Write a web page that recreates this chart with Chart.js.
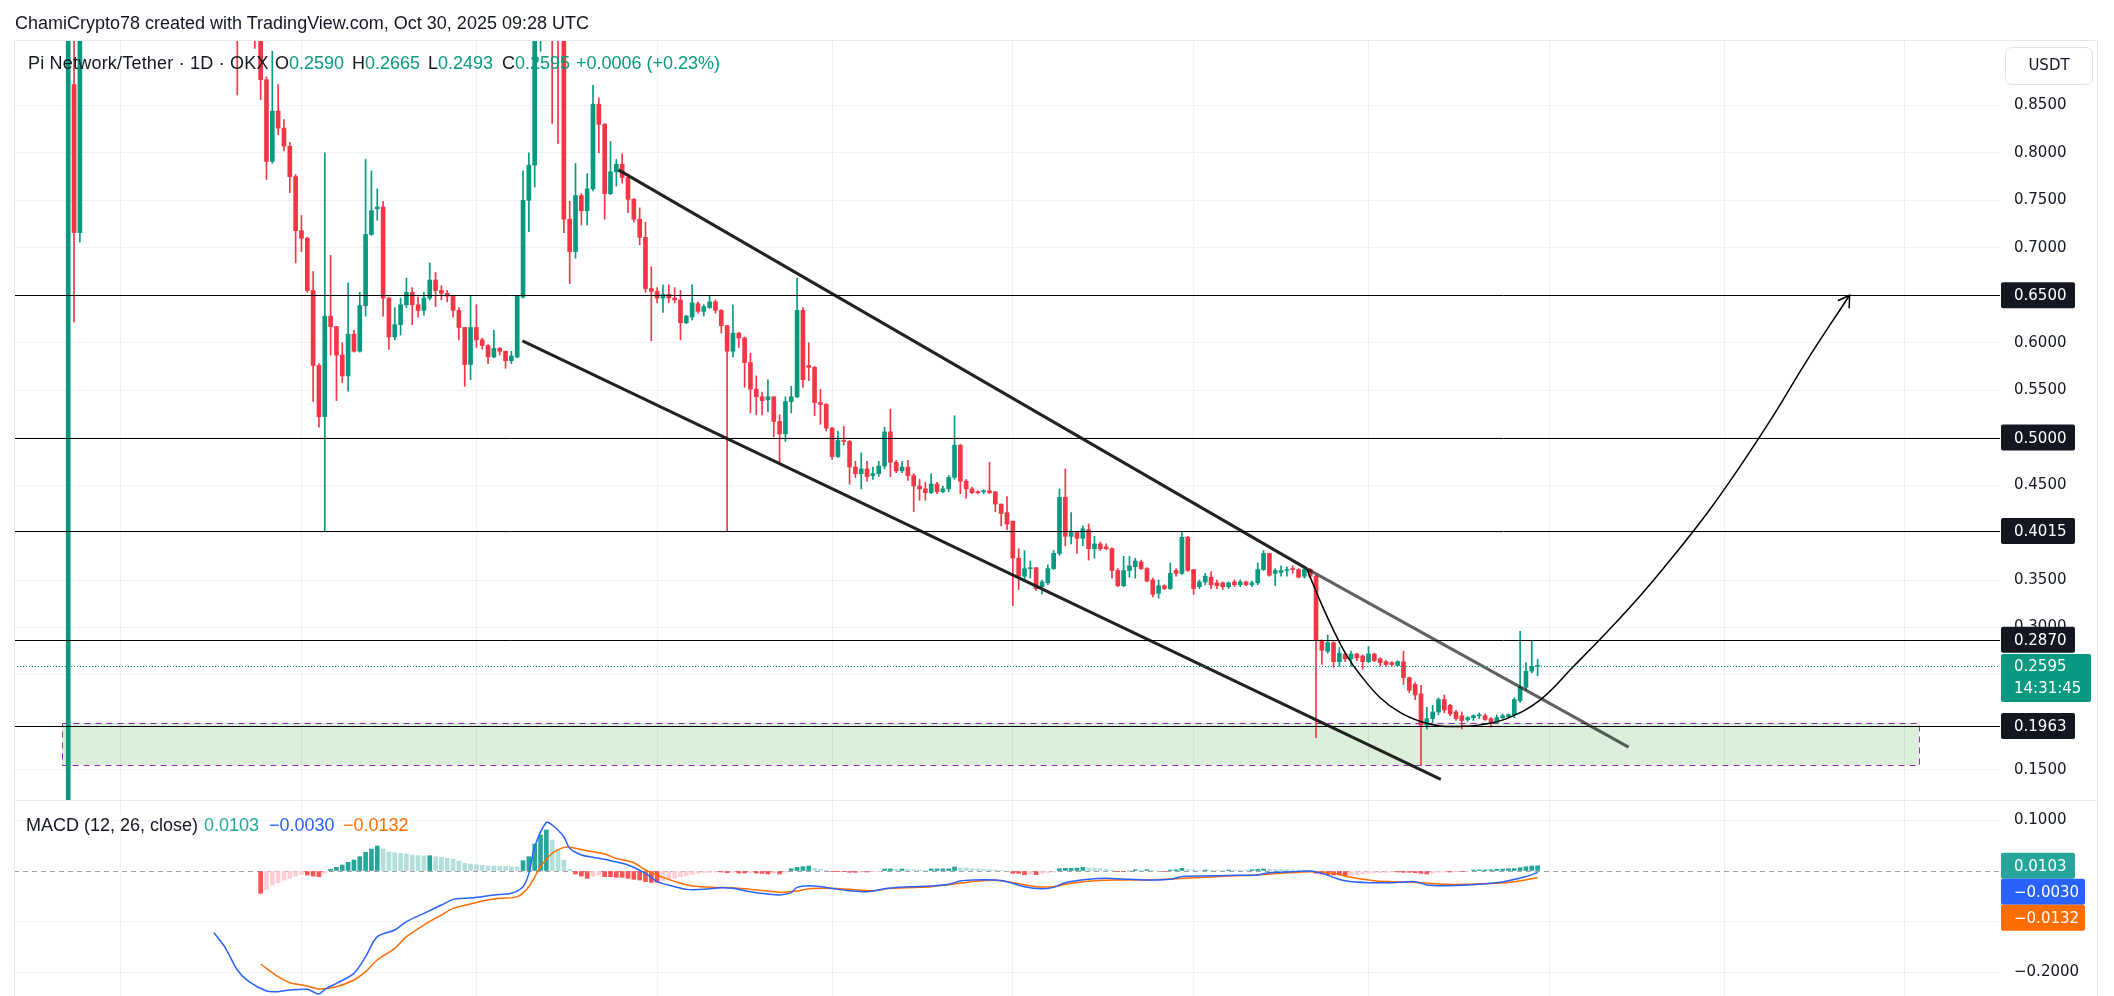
<!DOCTYPE html>
<html>
<head>
<meta charset="utf-8">
<title>Pi Network/Tether 1D OKX</title>
<script src="https://cdn.jsdelivr.net/npm/chart.js@4.4.1/dist/chart.umd.min.js"></script>
<style>
  html, body { margin: 0; padding: 0; background: #fff; }
  body { width: 2114px; height: 996px; overflow: hidden; position: relative;
         font-family: "Liberation Sans", Arial, sans-serif; color: #131722; }
  .pane { position: absolute; left: 0; width: 2114px; }
  #pricePane { top: 0; height: 801px; }
  #macdPane { top: 801px; height: 195px; }
  #frame { position: absolute; left: 14px; top: 40px; width: 2084px; height: 960px;
           border: 1px solid #e6e8ee; box-sizing: border-box; pointer-events: none; }
  #sep { position: absolute; left: 14px; top: 800px; width: 2084px; height: 1px; background: #e6e8ee; }
  .txt { position: absolute; font-size: 18px; line-height: 22px; white-space: nowrap; z-index: 5; }
  .up { color: #089981; }
</style>
</head>
<body>
<div class="pane" id="pricePane"><canvas id="priceChart"></canvas></div>
<div class="pane" id="macdPane"><canvas id="macdChart"></canvas></div>
<div id="frame"></div>
<div id="sep"></div>

<div class="txt" style="left:15px; top:12px;">ChamiCrypto78 created with TradingView.com, Oct 30, 2025 09:28 UTC</div>
<div class="txt" style="left:28px; top:52px; letter-spacing:0.2px;">Pi Network/Tether · 1D · OKX</div>
<div class="txt" style="left:275px; top:52px;">O<span class="up">0.2590</span></div>
<div class="txt" style="left:352px; top:52px;">H<span class="up">0.2665</span></div>
<div class="txt" style="left:428px; top:52px;">L<span class="up">0.2493</span></div>
<div class="txt" style="left:502px; top:52px;">C<span class="up">0.2595</span></div>
<div class="txt up" style="left:576px; top:52px;">+0.0006 (+0.23%)</div>
<div class="txt" style="left:26px; top:814px;">MACD (12, 26, close)</div>
<div class="txt" style="left:204px; top:814px; color:#26a69a;">0.0103</div>
<div class="txt" style="left:269px; top:814px; color:#2962ff;">−0.0030</div>
<div class="txt" style="left:343px; top:814px; color:#ff6d00;">−0.0132</div>

<script>
// ---- daily candles, index 0 = 20 Feb 2025 (null = candle entirely above the visible range)
const openPrices = [
  0.06, 0.872, 0.716, null, null, null, null, null, null, null,
  null, null, null, null, null, null, null, null, null, null,
  null, null, null, null, null, null, null, null, null, 1.02,
  null, null, 0.99, 0.94, 0.877, 0.791, 0.844, 0.826, 0.807, 0.775,
  0.718, 0.710, 0.655, 0.576, 0.522, 0.628, 0.617, 0.587, 0.565, 0.609,
  0.591, 0.639, 0.714, 0.741, 0.743, 0.647, 0.606, 0.619, 0.640, 0.653,
  0.640, 0.634, 0.647, 0.666, 0.655, 0.652, 0.649, 0.634, 0.616, 0.577,
  0.616, 0.603, 0.597, 0.585, 0.594, 0.591, 0.581, 0.585, 0.648, 0.750,
  0.787, 1.05, null, 1.12, 0.98, 0.94, 0.730, 0.696, 0.755, 0.739,
  0.762, 0.851, 0.830, 0.757, 0.780, 0.788, 0.774, 0.751, 0.730, 0.711,
  0.657, 0.654, 0.647, 0.651, 0.647, 0.645, 0.621, 0.627, 0.641, 0.633,
  0.637, 0.643, 0.634, 0.618, 0.591, 0.610, 0.605, 0.579, 0.551, 0.543,
  0.540, 0.543, 0.517, 0.504, 0.538, 0.543, 0.634, 0.576, 0.574, 0.537,
  0.535, 0.510, 0.480, 0.497, 0.496, 0.469, 0.462, 0.467, 0.460, 0.462,
  0.470, 0.506, 0.474, 0.465, 0.469, 0.460, 0.449, 0.446, 0.442, 0.451,
  0.443, 0.446, 0.458, 0.492, 0.454, 0.446, 0.443, 0.443, 0.444, 0.443,
  0.430, 0.421, 0.412, 0.373, 0.354, 0.362, 0.363, 0.343, 0.347, 0.362,
  0.378, 0.437, 0.396, 0.400, 0.394, 0.403, 0.383, 0.388, 0.385, 0.383,
  0.360, 0.344, 0.360, 0.364, 0.369, 0.362, 0.350, 0.336, 0.344, 0.341,
  0.360, 0.357, 0.395, 0.361, 0.343, 0.348, 0.353, 0.347, 0.347, 0.343,
  0.348, 0.345, 0.348, 0.345, 0.347, 0.361, 0.378, 0.357, 0.358, 0.360,
  0.362, 0.361, 0.354, 0.361, 0.354, 0.286, 0.275, 0.284, 0.264, 0.272,
  0.267, 0.272, 0.270, 0.264, 0.272, 0.267, 0.264, 0.263, 0.260, 0.264,
  0.247, 0.240, 0.230, 0.197, 0.204, 0.211, 0.224, 0.218, 0.211, 0.207,
  0.203, 0.205, 0.207, 0.207, 0.204, 0.200, 0.205, 0.206, 0.208, 0.223,
  0.237, 0.254, 0.2590
];
const highPrices = [
  1.95, 1.45, 1.90, null, null, null, null, null, null, null,
  null, null, null, null, null, null, null, null, null, null,
  null, null, null, null, null, null, null, null, null, 1.06,
  null, null, 1.02, 0.95, 0.88, 0.907, 0.872, 0.835, 0.811, 0.777,
  0.734, 0.711, 0.675, 0.578, 0.800, 0.692, 0.617, 0.600, 0.663, 0.613,
  0.653, 0.793, 0.781, 0.762, 0.749, 0.648, 0.637, 0.647, 0.668, 0.658,
  0.648, 0.653, 0.684, 0.674, 0.660, 0.655, 0.649, 0.637, 0.616, 0.650,
  0.640, 0.605, 0.598, 0.613, 0.595, 0.591, 0.591, 0.650, 0.781, 0.800,
  1.20, 1.45, null, 1.20, 1.02, 0.95, 0.749, 0.789, 0.757, 0.778,
  0.871, 0.858, 0.831, 0.812, 0.793, 0.799, 0.778, 0.752, 0.742, 0.727,
  0.680, 0.658, 0.661, 0.661, 0.658, 0.655, 0.629, 0.661, 0.643, 0.640,
  0.649, 0.645, 0.635, 0.618, 0.640, 0.611, 0.606, 0.589, 0.565, 0.548,
  0.561, 0.543, 0.524, 0.543, 0.554, 0.668, 0.637, 0.600, 0.575, 0.551,
  0.536, 0.511, 0.507, 0.512, 0.497, 0.475, 0.484, 0.475, 0.469, 0.475,
  0.511, 0.530, 0.476, 0.475, 0.476, 0.462, 0.456, 0.453, 0.462, 0.453,
  0.449, 0.460, 0.523, 0.493, 0.456, 0.448, 0.444, 0.445, 0.474, 0.443,
  0.430, 0.438, 0.412, 0.383, 0.381, 0.370, 0.363, 0.350, 0.366, 0.381,
  0.446, 0.467, 0.421, 0.401, 0.407, 0.409, 0.396, 0.390, 0.388, 0.384,
  0.362, 0.375, 0.375, 0.373, 0.371, 0.363, 0.352, 0.350, 0.345, 0.368,
  0.362, 0.400, 0.396, 0.361, 0.350, 0.357, 0.359, 0.350, 0.348, 0.348,
  0.350, 0.350, 0.349, 0.349, 0.368, 0.381, 0.378, 0.362, 0.365, 0.364,
  0.365, 0.362, 0.364, 0.362, 0.355, 0.287, 0.292, 0.285, 0.279, 0.273,
  0.275, 0.273, 0.271, 0.280, 0.273, 0.268, 0.265, 0.264, 0.265, 0.275,
  0.248, 0.242, 0.239, 0.216, 0.218, 0.226, 0.229, 0.219, 0.213, 0.211,
  0.206, 0.208, 0.210, 0.209, 0.205, 0.208, 0.209, 0.209, 0.226, 0.296,
  0.263, 0.286, 0.2665
];
const lowPrices = [
  0.06, 0.622, 0.706, null, null, null, null, null, null, null,
  null, null, null, null, null, null, null, null, null, null,
  null, null, null, null, null, null, null, null, null, 0.861,
  null, null, 0.910, 0.856, 0.772, 0.789, 0.819, 0.802, 0.758, 0.684,
  0.696, 0.653, 0.538, 0.511, 0.4015, 0.587, 0.539, 0.558, 0.549, 0.590,
  0.590, 0.628, 0.713, 0.729, 0.628, 0.593, 0.603, 0.608, 0.637, 0.619,
  0.627, 0.629, 0.645, 0.638, 0.645, 0.643, 0.627, 0.603, 0.554, 0.561,
  0.595, 0.593, 0.578, 0.584, 0.587, 0.573, 0.578, 0.584, 0.647, 0.717,
  0.764, 0.907, null, 0.831, 0.810, 0.716, 0.662, 0.689, 0.724, 0.724,
  0.760, 0.800, 0.730, 0.756, 0.765, 0.768, 0.737, 0.727, 0.703, 0.653,
  0.602, 0.642, 0.632, 0.642, 0.642, 0.603, 0.620, 0.624, 0.631, 0.628,
  0.636, 0.631, 0.610, 0.4015, 0.585, 0.595, 0.553, 0.526, 0.524, 0.524,
  0.527, 0.501, 0.472, 0.496, 0.526, 0.542, 0.553, 0.560, 0.523, 0.514,
  0.507, 0.477, 0.479, 0.492, 0.451, 0.458, 0.446, 0.454, 0.456, 0.459,
  0.467, 0.459, 0.463, 0.463, 0.455, 0.422, 0.434, 0.434, 0.441, 0.441,
  0.442, 0.443, 0.456, 0.441, 0.436, 0.441, 0.441, 0.441, 0.441, 0.422,
  0.407, 0.403, 0.323, 0.340, 0.350, 0.352, 0.339, 0.335, 0.345, 0.361,
  0.376, 0.386, 0.388, 0.378, 0.386, 0.371, 0.373, 0.381, 0.382, 0.352,
  0.343, 0.343, 0.353, 0.352, 0.361, 0.348, 0.332, 0.331, 0.340, 0.340,
  0.354, 0.356, 0.359, 0.335, 0.341, 0.345, 0.341, 0.341, 0.340, 0.341,
  0.343, 0.343, 0.344, 0.343, 0.345, 0.360, 0.354, 0.344, 0.354, 0.354,
  0.357, 0.352, 0.352, 0.352, 0.184, 0.261, 0.273, 0.258, 0.259, 0.264,
  0.259, 0.265, 0.256, 0.263, 0.264, 0.259, 0.259, 0.259, 0.259, 0.240,
  0.231, 0.224, 0.1545, 0.193, 0.200, 0.208, 0.210, 0.207, 0.202, 0.193,
  0.201, 0.202, 0.204, 0.202, 0.195, 0.199, 0.204, 0.205, 0.205, 0.221,
  0.234, 0.252, 0.2493
];
const closePrices = [
  1.55, 0.716, 1.50, null, null, null, null, null, null, null,
  null, null, null, null, null, null, null, null, null, null,
  null, null, null, null, null, null, null, null, null, 0.96,
  null, null, 0.94, 0.877, 0.791, 0.844, 0.826, 0.807, 0.775, 0.718,
  0.710, 0.655, 0.576, 0.522, 0.628, 0.617, 0.587, 0.565, 0.609, 0.591,
  0.639, 0.714, 0.739, 0.743, 0.647, 0.606, 0.619, 0.640, 0.653, 0.640,
  0.634, 0.647, 0.666, 0.655, 0.652, 0.649, 0.634, 0.616, 0.577, 0.616,
  0.603, 0.597, 0.585, 0.594, 0.591, 0.581, 0.586, 0.649, 0.750, 0.787,
  1.05, 1.35, null, 0.98, 0.94, 0.730, 0.696, 0.755, 0.739, 0.762,
  0.851, 0.830, 0.757, 0.780, 0.788, 0.774, 0.751, 0.730, 0.711, 0.657,
  0.654, 0.647, 0.651, 0.647, 0.645, 0.621, 0.628, 0.642, 0.633, 0.638,
  0.643, 0.634, 0.618, 0.591, 0.610, 0.605, 0.579, 0.551, 0.543, 0.539,
  0.543, 0.517, 0.504, 0.538, 0.543, 0.634, 0.561, 0.574, 0.537, 0.535,
  0.510, 0.480, 0.497, 0.496, 0.469, 0.462, 0.467, 0.459, 0.462, 0.470,
  0.506, 0.474, 0.465, 0.469, 0.460, 0.449, 0.446, 0.442, 0.451, 0.443,
  0.446, 0.458, 0.492, 0.454, 0.446, 0.442, 0.442, 0.444, 0.442, 0.430,
  0.420, 0.409, 0.373, 0.354, 0.362, 0.363, 0.341, 0.348, 0.362, 0.378,
  0.437, 0.396, 0.400, 0.394, 0.404, 0.383, 0.388, 0.383, 0.383, 0.360,
  0.344, 0.360, 0.365, 0.370, 0.362, 0.349, 0.335, 0.344, 0.341, 0.357,
  0.357, 0.395, 0.360, 0.341, 0.348, 0.354, 0.345, 0.344, 0.343, 0.347,
  0.345, 0.348, 0.345, 0.347, 0.361, 0.378, 0.355, 0.360, 0.360, 0.361,
  0.361, 0.353, 0.361, 0.354, 0.286, 0.276, 0.284, 0.264, 0.273, 0.267,
  0.272, 0.268, 0.264, 0.272, 0.265, 0.263, 0.261, 0.261, 0.264, 0.247,
  0.234, 0.229, 0.197, 0.204, 0.211, 0.224, 0.213, 0.209, 0.204, 0.202,
  0.205, 0.207, 0.208, 0.203, 0.200, 0.205, 0.207, 0.208, 0.224, 0.237,
  0.254, 0.259, 0.2595
];

// ---- MACD (12, 26, close) pane
const macdHist = [
  null, null, null, null, null, null, null, null, null, null,
  null, null, null, null, null, null, null, null, null, null,
  null, null, null, null, null, null, null, null, null, null,
  null, null, null, -0.044, -0.036, -0.0276, -0.023, -0.0178, -0.0145, -0.0099,
  -0.0066, -0.0079, -0.0099, -0.0112, -0.0033, 0.0033, 0.0072, 0.0118, 0.0171, 0.0217,
  0.0283, 0.0368, 0.0434, 0.0493, 0.0434, 0.0375, 0.0362, 0.0348, 0.0335, 0.0316,
  0.0302, 0.0296, 0.0302, 0.0283, 0.027, 0.025, 0.023, 0.0197, 0.0151, 0.0138,
  0.0125, 0.0112, 0.0099, 0.0097, 0.0095, 0.0088, 0.0085, 0.0083, 0.0204, 0.0283,
  0.0532, 0.071, 0.081, 0.0611, 0.0414, 0.0217, 0.0033, -0.0059, -0.0099, -0.0145,
  -0.0099, -0.0079, -0.0112, -0.0112, -0.0125, -0.0125, -0.0145, -0.0164, -0.0178, -0.021,
  -0.0224, -0.0224, -0.0191, -0.0164, -0.0145, -0.0112, -0.0092, -0.0066, -0.0046, -0.0033,
  -0.0026, -0.002, -0.002, -0.0033, -0.0026, -0.004, -0.004, -0.0033, -0.004, -0.0046,
  -0.0059, -0.0046, -0.0059, -0.002, 0.0046, 0.0072, 0.0085, 0.0099, 0.0053, 0.0033,
  0.0013, -0.0013, -0.0013, -0.0013, -0.0026, -0.0026, -0.002, -0.002, -0.0013, -0.0007,
  0.004, 0.0041, 0.0033, 0.004, 0.0033, 0.0026, 0.002, 0.0013, 0.004, 0.0041,
  0.0042, 0.0043, 0.0079, 0.0059, 0.0059, 0.0046, 0.004, 0.0033, 0.0026, 0.002,
  0.0013, 0.0, -0.0046, -0.0046, -0.0072, -0.0059, -0.0072, -0.0046, -0.0033, -0.002,
  0.0046, 0.0053, 0.0054, 0.0059, 0.0072, 0.0059, 0.0059, 0.0046, 0.004, 0.002,
  -0.0007, -0.0007, 0.0, 0.0026, 0.002, 0.0026, 0.0007, 0.0, -0.0013, 0.002,
  0.0026, 0.0053, 0.0033, 0.0026, 0.0013, 0.002, 0.0013, 0.0013, 0.0007, 0.002,
  0.002, 0.002, 0.002, 0.0026, 0.0033, 0.004, 0.0033, 0.0033, 0.0033, 0.0033,
  0.0026, 0.002, 0.002, 0.0013, -0.0046, -0.0059, -0.0072, -0.0079, -0.0079, -0.0099,
  -0.0086, -0.0072, -0.0059, -0.0046, -0.004, -0.0033, -0.0026, -0.002, -0.002, -0.0026,
  -0.0026, -0.0033, -0.0046, -0.0059, -0.004, -0.0026, -0.002, -0.002, -0.0013, -0.0013,
  -0.0007, 0.002, 0.0021, 0.0022, 0.0026, 0.0033, 0.004, 0.0046, 0.0047, 0.0066,
  0.0085, 0.0099, 0.0103
];
// [day index, value]
const macdLine = [
  [25,-0.1217],[27,-0.1525],[29,-0.1953],[31,-0.2183],[34,-0.2367],[36,-0.238],[38,-0.2347],
  [41,-0.2334],[43,-0.2426],[44,-0.2334],[46,-0.2215],[49,-0.2018],[51,-0.1689],[53,-0.1295],
  [56,-0.1164],[58,-0.0999],[61,-0.0835],[64,-0.0671],[66,-0.0559],[68,-0.0539],[71,-0.0506],
  [73,-0.0473],[76,-0.044],[78,-0.0309],[79,-0.0046],[80,0.048],[82,0.096],[83,0.0907],
  [85,0.0677],[86,0.0447],[88,0.0316],[90,0.027],[92,0.023],[93,0.0204],[96,0.0118],
  [99,-0.0046],[101,-0.021],[104,-0.0309],[106,-0.0362],[109,-0.0362],[112,-0.0329],
  [114,-0.0342],[117,-0.0408],[120,-0.0454],[122,-0.0473],[124,-0.0427],[125,-0.0323],
  [127,-0.029],[130,-0.0323],[132,-0.0362],[134,-0.0388],[137,-0.0408],[140,-0.0349],
  [142,-0.0323],[145,-0.0309],[148,-0.0296],[151,-0.0263],[153,-0.0197],[155,-0.0178],
  [159,-0.0178],[161,-0.021],[164,-0.0309],[167,-0.0349],[169,-0.0323],[171,-0.023],
  [175,-0.0164],[178,-0.0145],[182,-0.0164],[186,-0.0178],[189,-0.0164],[191,-0.011],
  [195,-0.0099],[199,-0.0086],[204,-0.0079],[206,-0.0033],[210,-0.0013],[213,0.0],
  [215,-0.0046],[217,-0.0125],[219,-0.0191],[223,-0.023],[227,-0.023],[231,-0.021],
  [233,-0.0276],[236,-0.029],[240,-0.0276],[245,-0.023],[247,-0.0191],[250,-0.011],[252,-0.003]
];
const signalLine = [
  [33,-0.1834],[36,-0.2084],[38,-0.2202],[41,-0.2268],[43,-0.2327],[46,-0.2281],[49,-0.2149],
  [51,-0.1985],[53,-0.1755],[56,-0.1525],[58,-0.1295],[61,-0.1065],[64,-0.0868],[66,-0.0736],
  [69,-0.065],[71,-0.0592],[74,-0.0539],[77,-0.0506],[79,-0.0309],[81,0.0085],[83,0.0348],
  [85,0.0467],[86,0.0467],[89,0.04],[92,0.0335],[94,0.025],[97,0.0164],[99,0.002],
  [102,-0.0125],[105,-0.0243],[107,-0.0296],[111,-0.0323],[114,-0.0329],[117,-0.0362],
  [120,-0.0395],[122,-0.0421],[125,-0.0395],[127,-0.0349],[131,-0.0342],[134,-0.0362],
  [138,-0.0388],[141,-0.0342],[145,-0.0323],[148,-0.0309],[152,-0.0256],[155,-0.021],
  [159,-0.0184],[162,-0.023],[166,-0.0309],[169,-0.0309],[172,-0.0243],[176,-0.0191],
  [180,-0.0178],[185,-0.0178],[190,-0.0151],[195,-0.0125],[199,-0.0099],[204,-0.0079],
  [208,-0.0046],[213,-0.0013],[217,-0.0046],[220,-0.0125],[224,-0.0191],[227,-0.021],
  [232,-0.023],[236,-0.0263],[240,-0.0263],[245,-0.0243],[248,-0.021],[252,-0.0132]
];
const macdLast = { hist: 0.0103, macd: -0.0030, signal: -0.0132 };

// ---- axes
const dayMin = -9.3, dayMax = 331.3;
const monthStarts = [9, 40, 70, 101, 131, 162, 193, 223, 254, 284, 315];
const priceTicks = [0.15, 0.20, 0.25, 0.30, 0.35, 0.40, 0.45, 0.50, 0.55, 0.60, 0.65, 0.70, 0.75, 0.80, 0.85];
const macdTicks = [0.1, 0, -0.1, -0.2];

// ---- drawings
const levelPrices = [0.65, 0.5, 0.4015, 0.287, 0.1963];
const lastPrice = 0.2595;
const countdown = '14:31:45';
const zoneDays = [-1.0, 317.4];
const zonePrices = [0.1995, 0.1555];
const channelUpper = [[94.35, 0.782], [212.4, 0.362]];
const channelUpperExt = [[212.4, 0.362], [267.6, 0.174]];
const channelLower = [[77.9, 0.602], [235.4, 0.140]];
const projection = [
  [212.4,0.362],[214.7,0.328],[217.0,0.297],[219.3,0.270],[221.6,0.250],[225.0,0.226],
  [228.4,0.2105],[231.9,0.201],[235.3,0.1963],[238.7,0.1958],[242.1,0.1974],[246.7,0.204],
  [252.4,0.2235],[258.1,0.2586],[263.9,0.2952],[269.6,0.3334],[275.3,0.3753],[281.0,0.4198],
  [286.7,0.4695],[292.4,0.5229],[298.1,0.5804],[305.5,0.650]
];

const UP = '#089981', DOWN = '#f23645', GRID = '#f0f1f4', INK = '#131722';
const AXIS_FONT = '15px "DejaVu Sans"';
Chart.defaults.font.family = '"DejaVu Sans", sans-serif';

const pts = arr => arr.map(p => ({ x: p[0], y: p[1] }));

// candles as two floating-bar datasets (wick range and body range)
const wickData = [], bodyData = [], candleColors = [];
for (let i = 0; i < openPrices.length; i++) {
  if (openPrices[i] === null) continue;
  wickData.push({ x: i, y: [lowPrices[i], highPrices[i]] });
  bodyData.push({ x: i, y: [openPrices[i], closePrices[i]] });
  candleColors.push(closePrices[i] >= openPrices[i] ? UP : DOWN);
}

const histData = [], histColors = [];
for (let i = 0; i < macdHist.length; i++) {
  const v = macdHist[i];
  if (v === null) continue;
  const prev = macdHist[i - 1];
  const rising = prev !== null && prev !== undefined && v > prev;
  histData.push({ x: i, y: v });
  histColors.push(v >= 0 ? (rising ? '#26a69a' : '#b2dfdb') : (rising ? '#ffcdd2' : '#ff5252'));
}

function box(ctx, x, y, w, h, fill, r) {
  ctx.beginPath();
  ctx.roundRect(x, y, w, h, r);
  ctx.fillStyle = fill;
  ctx.fill();
}

// right axis: fixed width, and no extra room reserved for the end labels
function fitRightAxis(s) {
  s.width = 114;
  s.paddingTop = 0;
  s.paddingBottom = 0;
}

function xScale() {
  return {
    type: 'linear', min: dayMin, max: dayMax, offset: false,
    afterBuildTicks: s => { s.ticks = monthStarts.map(v => ({ value: v })); },
    afterFit: s => { s.height = 0; s.paddingLeft = 0; s.paddingRight = 0; },
    ticks: { display: false },
    grid: { color: GRID, drawTicks: false, offset: false },
    border: { display: false }
  };
}

const priceDrawings = {
  id: 'priceDrawings',
  beforeDatasetsDraw(chart) {
    const { ctx, chartArea: a, scales: { x, y } } = chart;
    ctx.save();
    ctx.beginPath(); ctx.rect(a.left, a.top, a.width, a.height); ctx.clip();
    const x1 = Math.round(x.getPixelForValue(zoneDays[0])), x2 = Math.round(x.getPixelForValue(zoneDays[1]));
    const y1 = Math.round(y.getPixelForValue(zonePrices[0])), y2 = Math.round(y.getPixelForValue(zonePrices[1]));
    ctx.fillStyle = 'rgba(76,175,80,0.2)';
    ctx.fillRect(x1, y1, x2 - x1, y2 - y1);
    ctx.strokeStyle = '#9c27b0'; ctx.lineWidth = 1; ctx.setLineDash([6, 5]);
    ctx.strokeRect(x1 + 0.5, y1 + 0.5, x2 - x1, y2 - y1);
    ctx.restore();
  },
  afterDatasetsDraw(chart) {
    const { ctx, chartArea: a, scales: { y } } = chart;
    ctx.save();
    ctx.beginPath(); ctx.rect(a.left, a.top, a.width, a.height); ctx.clip();
    ctx.strokeStyle = '#000'; ctx.lineWidth = 1;
    levelPrices.forEach(p => {
      const py = Math.round(y.getPixelForValue(p)) + 0.5;
      ctx.beginPath(); ctx.moveTo(a.left, py); ctx.lineTo(a.right, py); ctx.stroke();
    });
    ctx.strokeStyle = UP; ctx.setLineDash([1, 2]);
    const ly = Math.round(y.getPixelForValue(lastPrice)) + 0.5;
    ctx.beginPath(); ctx.moveTo(a.left, ly); ctx.lineTo(a.right, ly); ctx.stroke();
    ctx.setLineDash([]);
    // arrow head on the projection curve
    const meta = chart.getDatasetMeta(chart.data.datasets.findIndex(d => d.label === 'projection'));
    const p1 = meta.data[meta.data.length - 2], p2 = meta.data[meta.data.length - 1];
    const ang = Math.atan2(p2.y - p1.y, p2.x - p1.x);
    ctx.strokeStyle = '#000'; ctx.lineWidth = 1.5;
    ctx.beginPath();
    ctx.moveTo(p2.x - 13 * Math.cos(ang - 0.55), p2.y - 13 * Math.sin(ang - 0.55));
    ctx.lineTo(p2.x, p2.y);
    ctx.lineTo(p2.x - 13 * Math.cos(ang + 0.55), p2.y - 13 * Math.sin(ang + 0.55));
    ctx.stroke();
    ctx.restore();
  },
  afterDraw(chart) {
    const { ctx, chartArea: a, scales: { y } } = chart;
    ctx.save();
    ctx.font = AXIS_FONT; ctx.textBaseline = 'middle';
    ctx.beginPath(); ctx.roundRect(a.right + 5.5, a.top + 6.5, 87, 37, 6);
    ctx.fillStyle = '#fff'; ctx.fill(); ctx.strokeStyle = '#e0e3eb'; ctx.lineWidth = 1; ctx.stroke();
    ctx.fillStyle = INK; ctx.textAlign = 'center';
    ctx.fillText('USDT', a.right + 49, a.top + 25.5);
    ctx.textAlign = 'left';
    levelPrices.forEach(p => {
      const cy = y.getPixelForValue(p);
      box(ctx, a.right + 1, cy - 13, 74, 26, INK, 2);
      ctx.fillStyle = '#fff';
      ctx.fillText(p.toFixed(4), a.right + 14, cy + 1);
    });
    const cy = y.getPixelForValue(lastPrice);
    box(ctx, a.right + 1, cy - 12, 90, 48, UP, 2);
    ctx.fillStyle = '#fff';
    ctx.fillText(lastPrice.toFixed(4), a.right + 14, cy + 1);
    ctx.fillText(countdown, a.right + 14, cy + 23);
    ctx.restore();
  }
};

new Chart(document.getElementById('priceChart'), {
  type: 'bar',
  data: {
    datasets: [
      { type: 'line', label: 'channel upper', data: pts(channelUpper), borderColor: '#222', borderWidth: 3, pointRadius: 0, order: 0 },
      { type: 'line', label: 'channel upper ext', data: pts(channelUpperExt), borderColor: 'rgba(0,0,0,0.62)', borderWidth: 3, pointRadius: 0, order: 0 },
      { type: 'line', label: 'channel lower', data: pts(channelLower), borderColor: '#222', borderWidth: 3, pointRadius: 0, order: 0 },
      { type: 'line', label: 'projection', data: pts(projection), borderColor: '#000', borderWidth: 1.5, pointRadius: 0, tension: 0.4, order: 0 },
      { label: 'wicks', data: wickData, backgroundColor: candleColors, barThickness: 1, grouped: false, order: 3 },
      { label: 'bodies', data: bodyData, backgroundColor: candleColors, barThickness: 4, minBarLength: 1, grouped: false, order: 2 }
    ]
  },
  options: {
    responsive: true,
    maintainAspectRatio: false,
    animation: false,
    layout: { autoPadding: false, padding: { left: 14, top: 41, right: 0, bottom: 0 } },
    plugins: { legend: { display: false }, tooltip: { enabled: false } },
    scales: {
      x: xScale(),
      y: {
        position: 'right', min: 0.1172, max: 0.9178,
        afterBuildTicks: s => { s.ticks = priceTicks.map(v => ({ value: v })); },
        afterFit: fitRightAxis,
        ticks: { padding: 14, autoSkip: false, color: INK, font: { size: 15 }, callback: v => v.toFixed(4) },
        grid: { color: GRID, drawTicks: false },
        border: { display: false }
      }
    }
  },
  plugins: [priceDrawings]
});

const macdDrawings = {
  id: 'macdDrawings',
  beforeDatasetsDraw(chart) {
    const { ctx, chartArea: a, scales: { y } } = chart;
    const zy = Math.round(y.getPixelForValue(0)) + 0.5;
    ctx.save();
    ctx.strokeStyle = 'rgba(120,123,134,0.7)'; ctx.lineWidth = 1; ctx.setLineDash([5, 4]);
    ctx.beginPath(); ctx.moveTo(a.left, zy); ctx.lineTo(a.right, zy); ctx.stroke();
    ctx.restore();
  },
  afterDraw(chart) {
    const { ctx, chartArea: a, scales: { y } } = chart;
    const tags = [
      { v: macdLast.hist, c: '#26a69a', w: 74 },
      { v: macdLast.macd, c: '#2962ff', w: 84 },
      { v: macdLast.signal, c: '#ff6d00', w: 84 }
    ].sort((p, q) => q.v - p.v);
    ctx.save();
    ctx.font = AXIS_FONT; ctx.textBaseline = 'middle'; ctx.textAlign = 'left';
    let bottom = -Infinity;
    tags.forEach(t => {
      const cy = Math.max(y.getPixelForValue(t.v), bottom + 13);
      box(ctx, a.right + 1, cy - 13, t.w, 26, t.c, 2);
      ctx.fillStyle = '#fff';
      ctx.fillText(t.v.toFixed(4).replace('-', '−'), a.right + 14, cy + 1);
      bottom = cy + 13;
    });
    ctx.restore();
  }
};

new Chart(document.getElementById('macdChart'), {
  type: 'bar',
  data: {
    datasets: [
      { type: 'line', label: 'MACD', data: pts(macdLine), borderColor: '#2962ff', borderWidth: 1.5, pointRadius: 0, tension: 0.3, order: 0 },
      { type: 'line', label: 'Signal', data: pts(signalLine), borderColor: '#ff6d00', borderWidth: 1.5, pointRadius: 0, tension: 0.3, order: 1 },
      { label: 'Histogram', data: histData, backgroundColor: histColors, barThickness: 4, grouped: false, order: 2 }
    ]
  },
  options: {
    responsive: true,
    maintainAspectRatio: false,
    animation: false,
    layout: { autoPadding: false, padding: { left: 14, top: 0, right: 0, bottom: 0 } },
    plugins: { legend: { display: false }, tooltip: { enabled: false } },
    scales: {
      x: xScale(),
      y: {
        position: 'right', min: -0.2465, max: 0.1381,
        afterBuildTicks: s => { s.ticks = macdTicks.map(v => ({ value: v })); },
        afterFit: fitRightAxis,
        ticks: { padding: 14, autoSkip: false, color: INK, font: { size: 15 },
                 callback: v => v.toFixed(4).replace('-', '−') },
        grid: { color: c => (c.tick && c.tick.value === 0 ? 'transparent' : GRID), drawTicks: false },
        border: { display: false }
      }
    }
  },
  plugins: [macdDrawings]
});
</script>
</body>
</html>
